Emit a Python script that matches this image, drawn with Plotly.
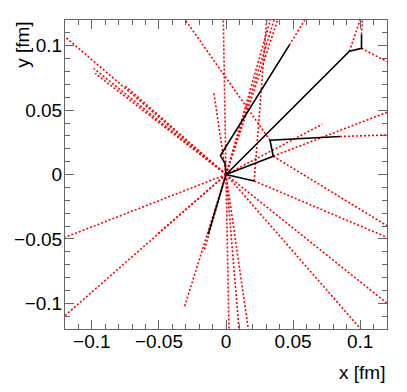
import plotly.graph_objects as go

# ---- axis setup data ----
x_range = [-0.12, 0.12]
y_range = [-0.12, 0.12]
tick_vals = [-0.1, -0.05, 0, 0.05, 0.1]
tick_text = ["\u22120.1", "\u22120.05", "0", "0.05", "0.1"]
x_title = "x [fm]"
y_title = "y [fm]"

# ---- black (solid) tracks: polylines ----
black_x = [
    [0.0, -0.0007, -0.0042, 0.0472],
    [0.0, 0.0920, 0.1010, 0.1010],
    [0.0, 0.0352, 0.0328, 0.0850],
    [0.0, 0.0210],
    [0.0, -0.0133],
]
black_y = [
    [0.0, 0.0087, 0.0147, 0.1005],
    [0.0, 0.0957, 0.0980, 0.1088],
    [0.0, 0.0142, 0.0266, 0.0295],
    [0.0, -0.0050],
    [0.0, -0.0465],
]

# ---- red (dotted) tracks: straight segments start -> end ----
red_x0 = [0.0, 0.0, 0.0, 0.0, 0.0, 0.0, 0.0, 0.0, 0.0, 0.0, 0.0, 0.0,
          0.0, 0.0, 0.0, 0.0, 0.0, 0.0, 0.0, 0.0,
          0.0328, 0.0472, 0.0920, 0.1010, 0.1010, 0.0850,
          0.0352, 0.0352, 0.0210, 0.0210]
red_y0 = [0.0, 0.0, 0.0, 0.0, 0.0, 0.0, 0.0, 0.0, 0.0, 0.0, 0.0, 0.0,
          0.0, 0.0, 0.0, 0.0, 0.0, 0.0, 0.0, 0.0,
          0.0266, 0.1005, 0.0957, 0.0980, 0.1088, 0.0295,
          0.0142, 0.0142, -0.0050, -0.0050]
red_x1 = [-0.1200, -0.0987, -0.0975, -0.0751, -0.0092, -0.0020,
          0.0330, 0.0358, 0.0385, 0.0718,
          -0.1200, -0.1200, -0.0520, -0.0308, -0.0165,
          0.0022, 0.0097, 0.0166, 0.1200, 0.1004,
          -0.0303, 0.0587, 0.0999, 0.1200, 0.1016, 0.1200,
          0.1200, 0.1200, 0.0303, 0.1200]
red_y1 = [0.1070, 0.0824, 0.0785, 0.0688, 0.0643, 0.1200,
          0.1200, 0.1200, 0.1200, 0.0390,
          -0.0488, -0.1096, -0.0470, -0.1023, -0.0600,
          -0.1200, -0.1200, -0.1200, -0.1000, -0.1200,
          0.1200, 0.1200, 0.1200, 0.0877, 0.1200, 0.0307,
          0.0483, -0.0398, 0.1200, -0.0488]

fig = go.Figure()

rx, ry = [], []
for a, b, c, d in zip(red_x0, red_y0, red_x1, red_y1):
    rx += [a, c, None]
    ry += [b, d, None]
fig.add_trace(go.Scatter(x=rx, y=ry, mode="lines",
                         line=dict(color="#ff0000", width=1.6, dash="2px,2px"),
                         hoverinfo="skip", showlegend=False))

for xs, ys in zip(black_x, black_y):
    fig.add_trace(go.Scatter(x=xs, y=ys, mode="lines",
                             line=dict(color="black", width=1.6),
                             hoverinfo="skip", showlegend=False))

font_family = "Liberation Sans Narrow, Arial Narrow, Liberation Sans, Arial, sans-serif"
axis_common = dict(
    showgrid=False, zeroline=False, showline=True, linecolor="#666666", linewidth=1,
    mirror="ticks", ticks="inside", ticklen=9, tickwidth=1, tickcolor="#666666",
    tickvals=tick_vals, ticktext=tick_text,
    minor=dict(dtick=0.01, ticks="inside", ticklen=5, tickcolor="#666666", tickwidth=1, showgrid=False),
    tickfont=dict(family=font_family, size=19, color="black"),
    fixedrange=True, automargin=False,
)
# page body has an 8px default margin, so the figure is sized to fit inside the window
fig.update_layout(
    width=399, height=384,
    margin=dict(l=57, r=20, t=12, b=63, autoexpand=False),
    paper_bgcolor="white", plot_bgcolor="white",
    xaxis=dict(range=x_range, ticklabelstandoff=-5, **axis_common),
    yaxis=dict(range=y_range, ticklabelstandoff=-2, **axis_common),
    annotations=[
        dict(text=x_title, xref="paper", yref="paper", x=1.0, y=-0.142,
             xanchor="right", yanchor="middle", showarrow=False,
             font=dict(family=font_family, size=19, color="black")),
        dict(text=y_title, xref="paper", yref="paper", x=-0.134, y=1.0,
             xanchor="center", yanchor="top", textangle=-90, showarrow=False,
             font=dict(family=font_family, size=19, color="black")),
    ],
)
fig.write_html("out.html")
